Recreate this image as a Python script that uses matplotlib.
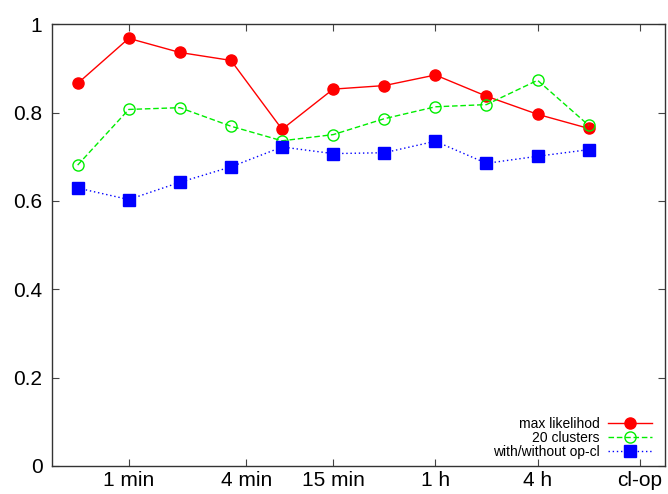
import matplotlib
matplotlib.use('Agg')
import matplotlib.pyplot as plt

plt.rcParams['font.family'] = ['Liberation Sans', 'DejaVu Sans']

x_pos = [1, 2, 3, 4, 5, 6, 7, 8, 9, 10, 11]
max_likelihood = [0.866, 0.968, 0.936, 0.918, 0.762, 0.853, 0.861, 0.885, 0.837, 0.796, 0.764]
clusters_20 = [0.681, 0.807, 0.811, 0.769, 0.736, 0.750, 0.786, 0.813, 0.818, 0.873, 0.771]
with_without = [0.629, 0.603, 0.642, 0.677, 0.722, 0.707, 0.709, 0.735, 0.685, 0.701, 0.716]

xtick_pos = [2, 4.3, 6, 8, 10, 12]
xtick_labels = ['1 min', '4 min', '15 min', '1 h', '4 h', 'cl-op']
ytick_pos = [0, 0.2, 0.4, 0.6, 0.8, 1.0]
ytick_labels = ['0', '0.2', '0.4', '0.6', '0.8', '1']

fig = plt.figure(figsize=(6.68, 4.94), dpi=100)
ax = fig.add_axes([0.078, 0.057, 0.918, 0.894])

ax.plot(x_pos, max_likelihood, color='#ff0000', lw=1, ls='-',
        marker='o', ms=8, mfc='#ff0000', mec='#ff0000', label='max likelihod')
ax.plot(x_pos, clusters_20, color='#00ee00', lw=1, ls=(0, (4, 2)),
        marker='o', ms=8, mfc='none', mec='#00ee00', mew=1, label='20 clusters')
ax.plot(x_pos, with_without, color='#0000ff', lw=1, ls=(0, (1, 2)),
        marker='s', ms=8, mfc='#0000ff', mec='#0000ff', label='with/without op-cl')

ax.set_xlim(0.5, 12.5)
ax.set_ylim(0, 1)
ax.set_xticks(xtick_pos)
ax.set_xticklabels(xtick_labels)
ax.set_yticks(ytick_pos)
ax.set_yticklabels(ytick_labels)
ax.tick_params(direction='in', length=5, width=0.8, color='#444444',
               top=True, right=True, labelsize=15)
ax.tick_params(axis='x', pad=3.5)
ax.tick_params(axis='y', pad=7)
for s in ax.spines.values():
    s.set_linewidth(1)
    s.set_color('#333333')

ax.legend(loc='lower right', markerfirst=False, frameon=False, fontsize=10,
          handlelength=3.2, handletextpad=0.6, labelspacing=0.0,
          borderaxespad=0.1, bbox_to_anchor=(0.99, 0.0))

fig.savefig('out.png', dpi=100)
